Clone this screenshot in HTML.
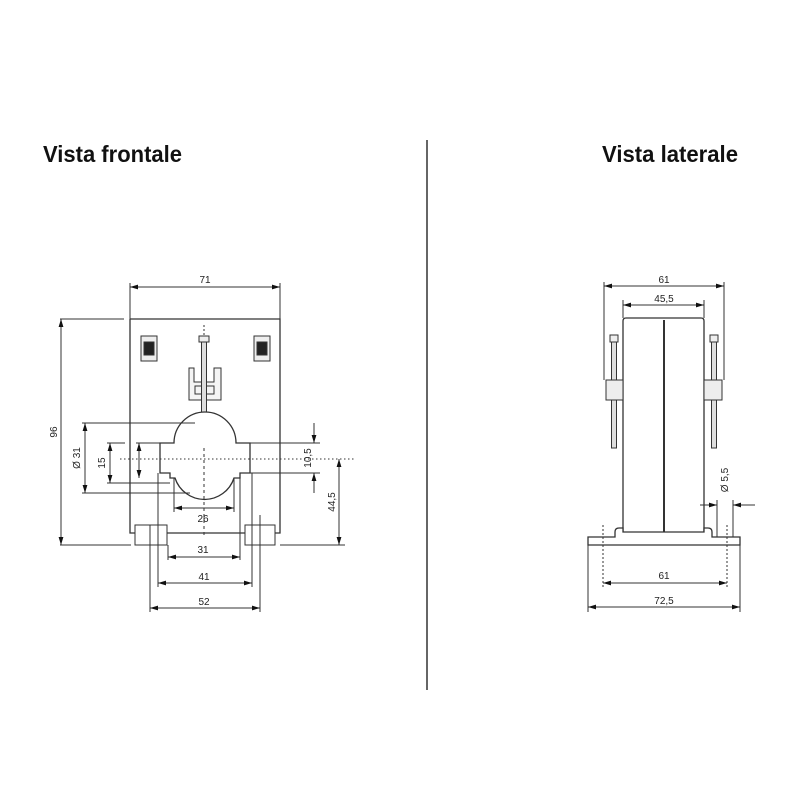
<!DOCTYPE html>
<html><head><meta charset="utf-8"><style>
html,body{margin:0;padding:0;background:#fff;}
svg{display:block;}
text{font-family:"Liberation Sans",sans-serif;fill:#222;}
.t{font-family:"Liberation Sans Narrow","Liberation Sans",sans-serif;font-weight:bold;font-size:23px;fill:#111;}
.d{font-size:10px;}
</style></head><body>
<svg width="800" height="800" viewBox="0 0 800 800" xmlns="http://www.w3.org/2000/svg">
<defs>
<marker id="a" viewBox="0 0 10 6" refX="10" refY="3" markerWidth="8" markerHeight="5" orient="auto-start-reverse" markerUnits="userSpaceOnUse"><path d="M0,0L10,3L0,6z" fill="#111"/></marker>
</defs>
<text class="t" x="43" y="162" textLength="139" lengthAdjust="spacingAndGlyphs">Vista frontale</text>
<text class="t" x="602" y="162" textLength="136" lengthAdjust="spacingAndGlyphs">Vista laterale</text>
<line x1="427" y1="140" x2="427" y2="690" stroke="#333" stroke-width="1.5"/>

<g stroke="#333" fill="none" stroke-width="1">
<!-- FRONT -->
<path d="M130,319 H280 V533 H275 M135,533 H130 V319" stroke-width="1.3"/>
<rect x="141" y="336" width="16" height="25" fill="#eee"/><rect x="144" y="342" width="10" height="13" fill="#222"/>
<rect x="254" y="336" width="16" height="25" fill="#eee"/><rect x="257" y="342" width="10" height="13" fill="#222"/>
<path d="M189,368 H194 V382 H214 V368 H221 V400 H189 Z" fill="#f4f4f4"/>
<rect x="195" y="386" width="19" height="8"/>
<rect x="201.5" y="338" width="5" height="110" fill="#ddd"/>
<rect x="199" y="336" width="10" height="6" fill="#eee"/>
<line x1="204" y1="325" x2="204" y2="336" stroke-dasharray="2,2"/>
<path d="M160,443 H174 A31,31 0 0 1 236,443 H250 V473 H240 V478 H234 A31,31 0 0 1 175,478 H170 V473 H160 Z" stroke-width="1.3" fill="#fff"/>
<line x1="200" y1="459" x2="355" y2="459" stroke-dasharray="1.5,2.5"/>
<line x1="120" y1="459" x2="200" y2="459" stroke-dasharray="1.5,2.5"/>
<line x1="204" y1="448" x2="204" y2="535" stroke-dasharray="3,3"/>
<rect x="135" y="525" width="32" height="20" fill="#fff"/>
<rect x="245" y="525" width="30" height="20" fill="#fff"/>
<line x1="167" y1="533" x2="245" y2="533" stroke-width="1.3"/>
<!-- ext lines front -->
<line x1="130" y1="283" x2="130" y2="319"/><line x1="280" y1="283" x2="280" y2="319"/>
<line x1="60" y1="319" x2="124" y2="319"/><line x1="60" y1="545" x2="131" y2="545"/><line x1="280" y1="545" x2="345" y2="545"/>
<line x1="82" y1="423" x2="195" y2="423"/><line x1="82" y1="493" x2="190" y2="493"/>
<line x1="107" y1="443" x2="125" y2="443"/><line x1="107" y1="483" x2="170" y2="483"/>
<line x1="136" y1="443" x2="160" y2="443"/>
<line x1="250" y1="443" x2="320" y2="443"/><line x1="250" y1="473" x2="320" y2="473"/>
<line x1="174" y1="478" x2="174" y2="512"/><line x1="234" y1="478" x2="234" y2="512"/>
<line x1="168" y1="545" x2="168" y2="560"/><line x1="240" y1="473" x2="240" y2="560"/>
<line x1="158" y1="473" x2="158" y2="587"/><line x1="252" y1="473" x2="252" y2="587"/>
<line x1="150" y1="525" x2="150" y2="612"/><line x1="260" y1="515" x2="260" y2="612"/>
<!-- dims front -->
<line x1="130" y1="287" x2="280" y2="287" marker-start="url(#a)" marker-end="url(#a)"/>
<line x1="61" y1="319" x2="61" y2="545" marker-start="url(#a)" marker-end="url(#a)"/>
<line x1="85" y1="423" x2="85" y2="493" marker-start="url(#a)" marker-end="url(#a)"/>
<line x1="110" y1="443" x2="110" y2="483" marker-start="url(#a)" marker-end="url(#a)"/>
<line x1="139" y1="443" x2="139" y2="478" marker-start="url(#a)" marker-end="url(#a)"/>
<line x1="174" y1="508" x2="234" y2="508" marker-start="url(#a)" marker-end="url(#a)"/>
<line x1="168" y1="557" x2="240" y2="557" marker-start="url(#a)" marker-end="url(#a)"/>
<line x1="158" y1="583" x2="252" y2="583" marker-start="url(#a)" marker-end="url(#a)"/>
<line x1="150" y1="608" x2="260" y2="608" marker-start="url(#a)" marker-end="url(#a)"/>
<line x1="314" y1="423" x2="314" y2="443" marker-end="url(#a)"/>
<line x1="314" y1="493" x2="314" y2="473" marker-end="url(#a)"/>
<line x1="339" y1="459" x2="339" y2="545" marker-start="url(#a)" marker-end="url(#a)"/>

<!-- SIDE -->
<path d="M623,532 V321 Q623,318 626,318 H701 Q704,318 704,321 V532" stroke-width="1.3"/>
<line x1="664" y1="320" x2="664" y2="532" stroke-width="2"/>
<path d="M588,545 V537 H615 V532 Q615,528 619,528 H623 V532 H704 V528 H708 Q712,528 712,532 V537 H740 V545 Z" fill="#fff" stroke-width="1.3"/>
<rect x="611.5" y="340" width="5" height="108" fill="#ddd"/><rect x="610" y="335" width="8" height="7" fill="#eee"/>
<rect x="711.5" y="340" width="5" height="108" fill="#ddd"/><rect x="710" y="335" width="8" height="7" fill="#eee"/>
<rect x="606" y="380" width="17" height="20" fill="#eee"/>
<rect x="704" y="380" width="18" height="20" fill="#eee"/>
<line x1="604" y1="282" x2="604" y2="380"/><line x1="724" y1="282" x2="724" y2="380"/>
<line x1="623" y1="300" x2="623" y2="318"/><line x1="704" y1="300" x2="704" y2="318"/>
<line x1="603" y1="525" x2="603" y2="587" stroke-dasharray="2,2"/><line x1="727" y1="525" x2="727" y2="587" stroke-dasharray="2,2"/>
<line x1="588" y1="545" x2="588" y2="612"/><line x1="740" y1="545" x2="740" y2="612"/>
<line x1="717" y1="500" x2="717" y2="537"/><line x1="733" y1="500" x2="733" y2="537"/>
<line x1="604" y1="286" x2="724" y2="286" marker-start="url(#a)" marker-end="url(#a)"/>
<line x1="623" y1="305" x2="704" y2="305" marker-start="url(#a)" marker-end="url(#a)"/>
<line x1="603" y1="583" x2="727" y2="583" marker-start="url(#a)" marker-end="url(#a)"/>
<line x1="588" y1="607" x2="740" y2="607" marker-start="url(#a)" marker-end="url(#a)"/>
<line x1="700" y1="505" x2="717" y2="505" marker-end="url(#a)"/>
<line x1="755" y1="505" x2="733" y2="505" marker-end="url(#a)"/>
</g>

<text class="d" x="205" y="283" text-anchor="middle">71</text>
<text class="d" x="203" y="522" text-anchor="middle">26</text>
<text class="d" x="203" y="553" text-anchor="middle">31</text>
<text class="d" x="204" y="580" text-anchor="middle">41</text>
<text class="d" x="204" y="605" text-anchor="middle">52</text>
<text class="d" transform="translate(57,432) rotate(-90)" text-anchor="middle">96</text>
<text class="d" transform="translate(80,458) rotate(-90)" text-anchor="middle">Ø 31</text>
<text class="d" transform="translate(105,463) rotate(-90)" text-anchor="middle">15</text>
<text class="d" transform="translate(311,458) rotate(-90)" text-anchor="middle">10,5</text>
<text class="d" transform="translate(335,502) rotate(-90)" text-anchor="middle">44,5</text>
<text class="d" x="664" y="283" text-anchor="middle">61</text>
<text class="d" x="664" y="302" text-anchor="middle">45,5</text>
<text class="d" x="664" y="579" text-anchor="middle">61</text>
<text class="d" x="664" y="604" text-anchor="middle">72,5</text>
<text class="d" transform="translate(728,480) rotate(-90)" text-anchor="middle">Ø 5,5</text>
</svg>
</body></html>
